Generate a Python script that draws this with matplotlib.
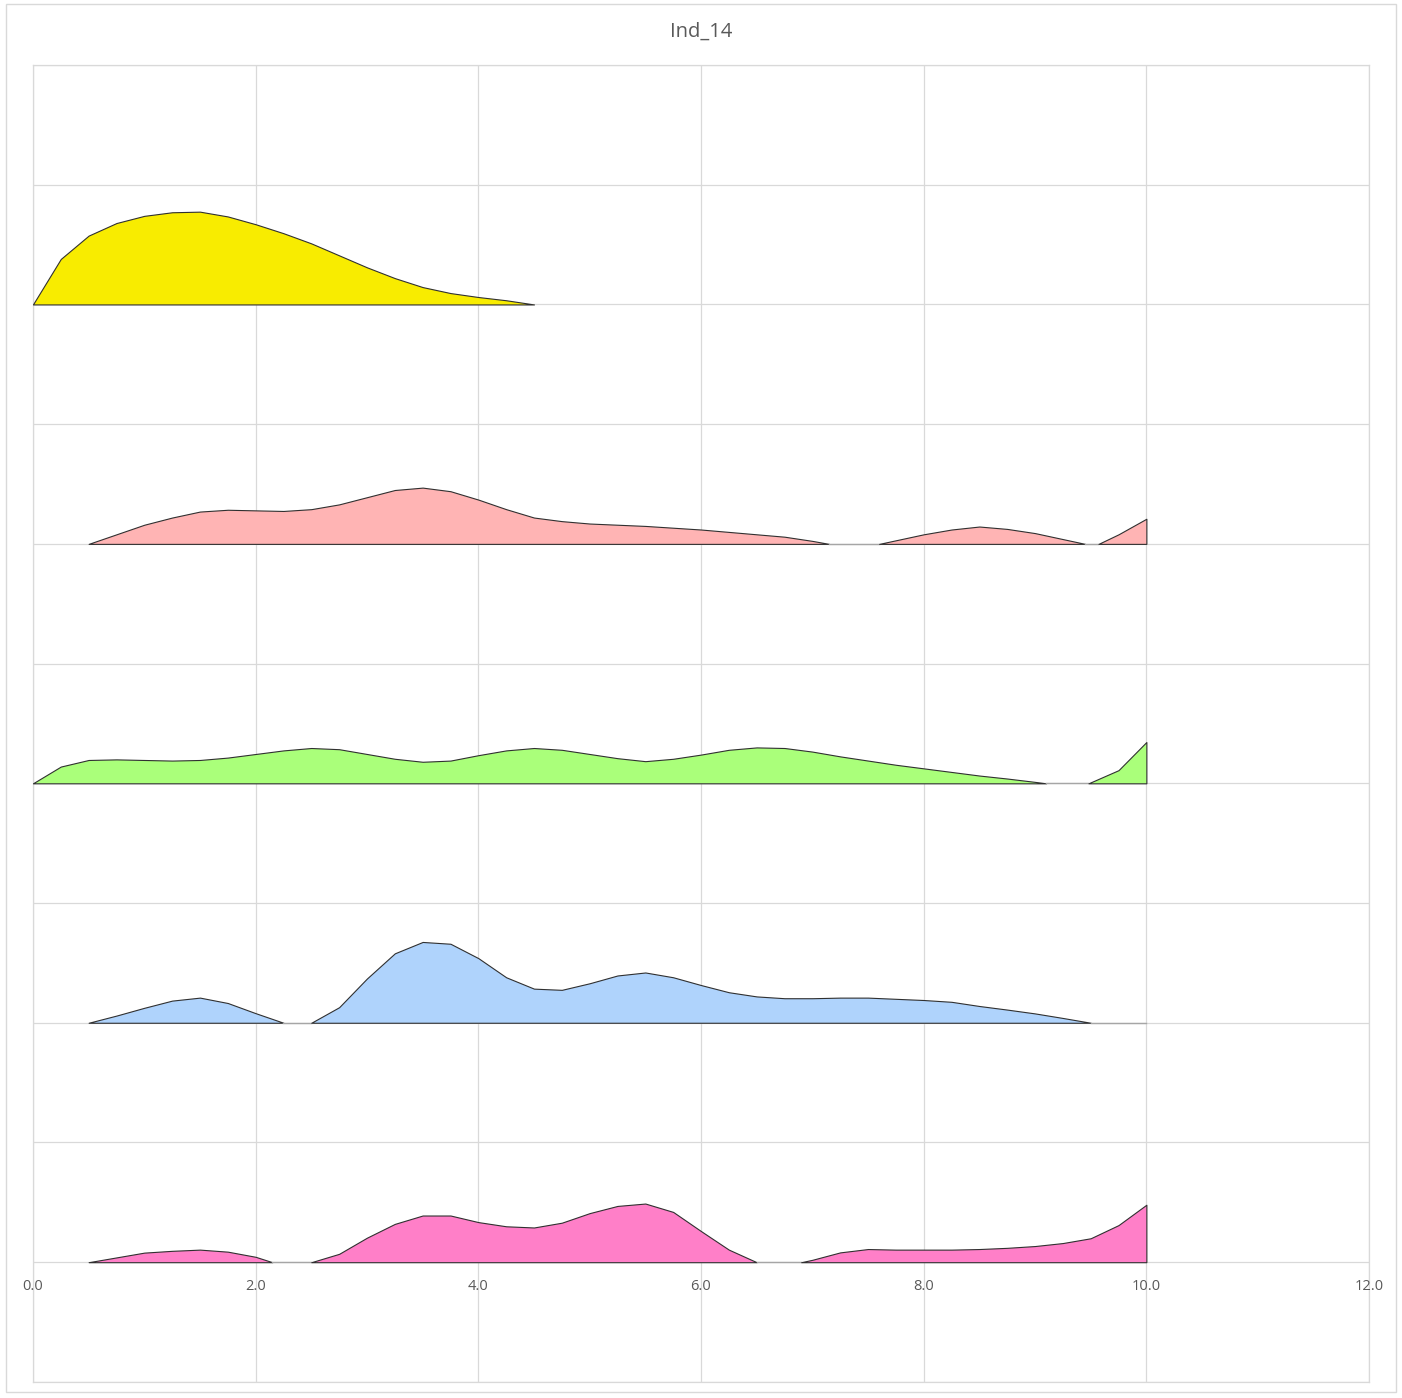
import numpy as np
import matplotlib

matplotlib.use("Agg")
import matplotlib.pyplot as plt
import matplotlib.transforms as mtransforms
from matplotlib.patches import Rectangle

# ridge heights, one series per row
yellow_x = [0, 0.25, 0.5, 0.75, 1.0, 1.25, 1.5, 1.75, 2.0, 2.25, 2.5, 2.75, 3.0, 3.25, 3.5, 3.75, 4.0, 4.25, 4.5]
yellow_h = [0, 0.38, 0.575, 0.68, 0.74, 0.77, 0.775, 0.735, 0.67, 0.595, 0.51, 0.41, 0.31, 0.22, 0.145, 0.095, 0.062, 0.035, 0.0]

pink_x = [0.5, 0.75, 1.0, 1.25, 1.5, 1.75, 2.0, 2.25, 2.5, 2.75, 3.0, 3.25, 3.5, 3.75, 4.0, 4.25, 4.5, 4.75,
          5.0, 5.25, 5.5, 5.75, 6.0, 6.25, 6.5, 6.75, 7.0, 7.15, 7.6, 7.75, 8.0, 8.25, 8.5, 8.75, 9.0, 9.25,
          9.45, 9.57, 9.75, 10.0]
pink_h = [0, 0.08, 0.16, 0.22, 0.27, 0.285, 0.28, 0.275, 0.29, 0.33, 0.39, 0.45, 0.47, 0.44, 0.37, 0.29, 0.22, 0.19,
          0.17, 0.16, 0.15, 0.135, 0.12, 0.10, 0.08, 0.06, 0.025, 0, 0, 0.03, 0.08, 0.12, 0.145, 0.125, 0.09, 0.04,
          0, 0, 0.08, 0.21]

green_x = [0, 0.25, 0.5, 0.75, 1.0, 1.25, 1.5, 1.75, 2.0, 2.25, 2.5, 2.75, 3.0, 3.25, 3.5, 3.75, 4.0, 4.25, 4.5,
           4.75, 5.0, 5.25, 5.5, 5.75, 6.0, 6.25, 6.5, 6.75, 7.0, 7.25, 7.5, 7.75, 8.0, 8.25, 8.5, 8.75, 9.0,
           9.1, 9.48, 9.75, 10.0]
green_h = [0, 0.14, 0.195, 0.2, 0.195, 0.19, 0.195, 0.215, 0.245, 0.275, 0.295, 0.285, 0.245, 0.205, 0.18, 0.19,
           0.235, 0.275, 0.295, 0.28, 0.245, 0.21, 0.185, 0.205, 0.24, 0.28, 0.3, 0.295, 0.265, 0.225, 0.19, 0.155,
           0.125, 0.095, 0.065, 0.04, 0.012, 0, 0, 0.11, 0.345]

blue_x = [0.5, 0.75, 1.0, 1.25, 1.5, 1.75, 2.0, 2.25, 2.5, 2.75, 3.0, 3.25, 3.5, 3.75, 4.0, 4.25, 4.5, 4.75,
          5.0, 5.25, 5.5, 5.75, 6.0, 6.25, 6.5, 6.75, 7.0, 7.25, 7.5, 7.75, 8.0, 8.25, 8.5, 8.75, 9.0, 9.25,
          9.5, 10.0]
blue_h = [0, 0.06, 0.125, 0.185, 0.21, 0.165, 0.08, 0, 0, 0.13, 0.37, 0.58, 0.675, 0.66, 0.54, 0.38, 0.285, 0.275,
          0.33, 0.395, 0.42, 0.38, 0.315, 0.255, 0.22, 0.205, 0.205, 0.21, 0.21, 0.2, 0.19, 0.175, 0.14, 0.11,
          0.078, 0.04, 0, 0]

magenta_x = [0.5, 0.75, 1.0, 1.25, 1.5, 1.75, 2.0, 2.15, 2.5, 2.75, 3.0, 3.25, 3.5, 3.75, 4.0, 4.25, 4.5, 4.75,
             5.0, 5.25, 5.5, 5.75, 6.0, 6.25, 6.5, 6.9, 7.0, 7.25, 7.5, 7.75, 8.0, 8.25, 8.5, 8.75, 9.0, 9.25,
             9.5, 9.75, 10.0]
magenta_h = [0, 0.04, 0.08, 0.095, 0.105, 0.088, 0.045, 0, 0, 0.07, 0.205, 0.32, 0.39, 0.39, 0.335, 0.3, 0.29, 0.33,
             0.41, 0.47, 0.49, 0.42, 0.26, 0.105, 0, 0, 0.02, 0.082, 0.11, 0.105, 0.105, 0.105, 0.11, 0.12, 0.135,
             0.16, 0.2, 0.31, 0.48]

series = [
    (yellow_x, yellow_h, 8, "#F8EC00"),
    (pink_x, pink_h, 6, "#FFB4B4"),
    (green_x, green_h, 4, "#AAFF7A"),
    (blue_x, blue_h, 2, "#AFD3FC"),
    (magenta_x, magenta_h, 0, "#FF7FC8"),
]

x_ticks = [0, 2, 4, 6, 8, 10, 12]

GRID = "#D9D9D9"
TEXT = "#595959"

fig = plt.figure(figsize=(14.02, 13.98), dpi=100)
fig.patch.set_facecolor("white")
fig.patches.append(Rectangle((0.004, 0.004), 0.992, 0.993, transform=fig.transFigure,
                             fill=False, edgecolor=GRID, lw=1.0))

ax = fig.add_axes([0.0235, 0.0115, 0.953, 0.942])
ax.set_xlim(0, 12)
ax.set_ylim(-1, 10)
ax.set_xticks(x_ticks)
ax.set_yticks(range(-1, 11))
ax.grid(True, color=GRID, lw=0.9)
ax.set_axisbelow(True)
ax.tick_params(length=0, labelbottom=False, labelleft=False)
for sp in ax.spines.values():
    sp.set_color(GRID)
    sp.set_linewidth(0.9)

for xs, hs, base, col in series:
    xs = np.array(xs, dtype=float)
    hs = np.array(hs, dtype=float)
    # split where two consecutive zeros mark a gap
    start = 0
    for i in range(len(xs)):
        gap = i < len(xs) - 1 and hs[i] == 0 and hs[i + 1] == 0
        if gap or i == len(xs) - 1:
            sx, sh = xs[start:i + 1], hs[start:i + 1]
            if len(sx) > 1:
                ax.fill_between(sx, base, base + sh, facecolor=col, edgecolor="#303030",
                                lw=0.8, joinstyle="round", zorder=3)
            if gap:
                ax.plot([xs[i], xs[i + 1]], [base, base], color="#A6A6A6", lw=1.0, zorder=3)
            start = i + 1

label_off = mtransforms.offset_copy(ax.transData, fig=fig, x=0, y=-12, units="points")
for v in x_ticks:
    ax.text(v, 0, f"{v:.1f}", transform=label_off, ha="center", va="top",
            fontsize=10.5, color=TEXT, family="Open Sans")

fig.text(0.5, 0.977, "Ind_14", ha="center", va="center", fontsize=14.5, color=TEXT, family="Open Sans")

plt.savefig("out.png", dpi=100, facecolor="white")
plt.close(fig)
